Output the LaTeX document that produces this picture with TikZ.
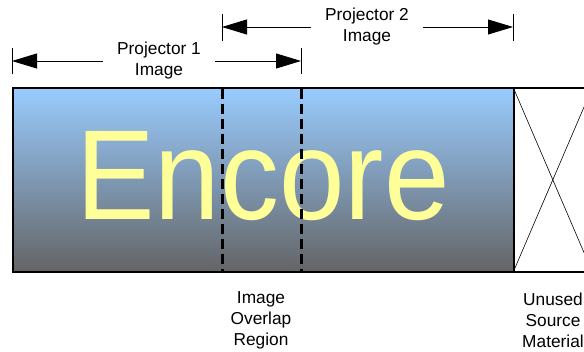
\documentclass[tikz,border=0pt]{standalone}
\usepackage{fontspec}
\setmainfont{Liberation Sans}
\usetikzlibrary{arrows.meta,positioning}
\definecolor{skyblue}{RGB}{153,204,255}
\definecolor{darkgrey}{RGB}{100,100,102}
\definecolor{logoyellow}{RGB}{255,255,153}
\begin{document}
\begin{tikzpicture}[x=1pt,y=-1pt]
		\tikzstyle{caption} = [align=center, inner xsep=14pt, font=\fontsize{17.3}{21}\selectfont]
		\tikzstyle{dim} = [-{Triangle[length=25pt,width=15pt]}, line width=0.8pt]
		\tikzstyle{tick} = [line width=0.8pt]
		\useasboundingbox (0,0) rectangle (584,352);

		% Screen and unused source area
		\node[draw, line width=1.6pt, top color=skyblue, bottom color=darkgrey, minimum width=501pt, minimum height=184pt, inner sep=0pt, anchor=north west] (screen) at (12,87) {};
		\node[draw, line width=1.6pt, fill=white, minimum width=78pt, minimum height=184pt, inner sep=0pt, anchor=north west] (unused) at (513,87) {};
		\draw[line width=0.6pt] (unused.north west) -- (unused.south east);
		\draw[line width=0.6pt] (unused.south west) -- (unused.north east);

		% Logo text
		\node[text=logoyellow, font=\fontsize{128}{128}\selectfont, xscale=0.92] (logo) at (263,176) {Encore};

		% Overlap region edges
		\coordinate (ovl) at (222,89);
		\coordinate (ovr) at (301,89);
		\draw[line width=3pt, dash pattern=on 10pt off 5pt] (ovl) -- (ovl |- screen.south);
		\draw[line width=3pt, dash pattern=on 10pt off 5pt] (ovr) -- (ovr |- screen.south);

		% Projector 1 span
		\node[caption] (proj1) at (159,61) {Projector 1\\Image};
		\coordinate (p1l) at (12,61);
		\coordinate (p1r) at (301,61);
		\draw[dim] (proj1) -- (p1l);
		\draw[dim] (proj1) -- (p1r);
		\draw[tick] (12,48) -- (12,74);
		\draw[tick] (301,48) -- (301,74);

		% Projector 2 span
		\node[caption] (proj2) at (367,27) {Projector 2\\Image};
		\coordinate (p2l) at (222,27);
		\coordinate (p2r) at (513,27);
		\draw[dim] (proj2) -- (p2l);
		\draw[dim] (proj2) -- (p2r);
		\draw[tick] (222,14) -- (222,41);
		\draw[tick] (513,14) -- (513,41);

		% Bottom labels
		\node[caption] (overlap) at (261,320) {Image\\Overlap\\Region};
		\node[caption] (unusedlbl) at (553,320) {Unused\\Source\\Material};

		\end{tikzpicture}
\end{document}
